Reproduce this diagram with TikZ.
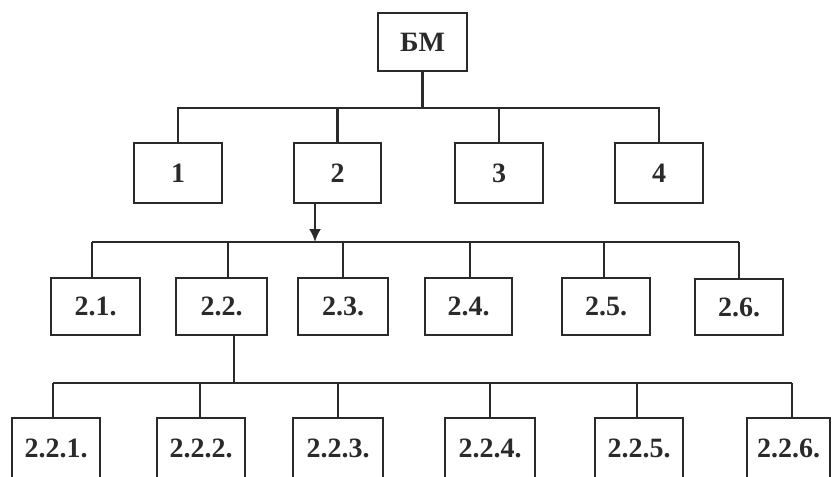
\documentclass[tikz,border=0pt]{standalone}
\usepackage{fontspec}
\setmainfont{Liberation Serif}
\usetikzlibrary{arrows.meta}
\definecolor{ink}{HTML}{2A2A2A}
\tikzset{
  box/.style={draw=ink, line width=2.2pt, inner sep=0pt, text=ink,
    font=\fontsize{28}{28}\selectfont\bfseries},
  conn/.style={draw=ink, line width=2.2pt},
}
\begin{document}
\begin{tikzpicture}[x=1pt, y=-1pt]
\useasboundingbox (0,0) rectangle (834,476);
% level 0
\node[box, minimum width=89pt, minimum height=58pt] (bm) at (422.5,42) {БМ};
% level 1
\node[box, minimum width=88pt, minimum height=60pt] (n1) at (178,173) {1};
\node[box, minimum width=87pt, minimum height=60pt] (n2) at (337.5,173) {2};
\node[box, minimum width=88pt, minimum height=60pt] (n3) at (499,173) {3};
\node[box, minimum width=88pt, minimum height=60pt] (n4) at (659,173) {4};
% level 2
\node[box, minimum width=89pt, minimum height=57pt] (n21) at (95.5,306.5) {2.1.};
\node[box, minimum width=91pt, minimum height=57pt] (n22) at (221.5,306.5) {2.2.};
\node[box, minimum width=90pt, minimum height=57pt] (n23) at (343,306.5) {2.3.};
\node[box, minimum width=87pt, minimum height=57pt] (n24) at (468.5,306.5) {2.4.};
\node[box, minimum width=88pt, minimum height=57pt] (n25) at (606,306.5) {2.5.};
\node[box, minimum width=88pt, minimum height=56pt] (n26) at (739,307) {2.6.};
% level 3
\node[box, minimum width=88pt, minimum height=60pt] (n221) at (56,448) {2.2.1.};
\node[box, minimum width=88pt, minimum height=60pt] (n222) at (201,448) {2.2.2.};
\node[box, minimum width=90pt, minimum height=60pt] (n223) at (338,448) {2.2.3.};
\node[box, minimum width=90pt, minimum height=60pt] (n224) at (490,448) {2.2.4.};
\node[box, minimum width=88pt, minimum height=60pt] (n225) at (639,448) {2.2.5.};
\node[box, minimum width=83pt, minimum height=60pt] (n226) at (788.5,448) {2.2.6.};
% junction coordinates
\coordinate (h1) at (0,108);
\coordinate (a2) at (315,242);
\coordinate (h2L) at (92,242);
\coordinate (h2R) at (739,242);
\coordinate (v22) at (234,383);
\coordinate (h3L) at (53,383);
\coordinate (h3R) at (792,383);
% level 1 connectors
\draw[conn] (bm.south) -- (bm.south |- h1);
\draw[conn] (n1.north) -- (n1.north |- h1) -- (n4.north |- h1) -- (n4.north);
\draw[conn] (n2.north) -- (n2.north |- h1);
\draw[conn] (n3.north) -- (n3.north |- h1);
% level 2 connectors
\draw[conn, -{Latex[length=13pt,width=12pt]}] (n2.south -| a2) -- (a2);
\draw[conn] (h2L) -- (h2R);
\draw[conn] (h2L) -- (n21.north -| h2L);
\draw[conn] (n22.north |- h2L) -- ++(6.5,0) coordinate (d22) -- (d22 |- n22.north);
\draw[conn] (n23.north |- h2L) -- (n23.north);
\draw[conn] (n24.north |- h2L) ++(1.5,0) -- ++(0,36);
\draw[conn] (n25.north |- h2L) ++(-2,0) -- ++(0,36);
\draw[conn] (h2R) -- (h2R |- n26.north);
% level 3 connectors
\draw[conn] (n22.south -| v22) -- (v22);
\draw[conn] (h3L) -- (h3R);
\draw[conn] (h3L) -- (h3L |- n221.north);
\draw[conn] (n222.north |- h3L) ++(-1,0) -- ++(0,35);
\draw[conn] (n223.north |- h3L) -- (n223.north);
\draw[conn] (n224.north |- h3L) -- (n224.north);
\draw[conn] (n225.north |- h3L) ++(-2,0) -- ++(0,35);
\draw[conn] (h3R) -- (h3R |- n226.north);
\end{tikzpicture}
\end{document}
